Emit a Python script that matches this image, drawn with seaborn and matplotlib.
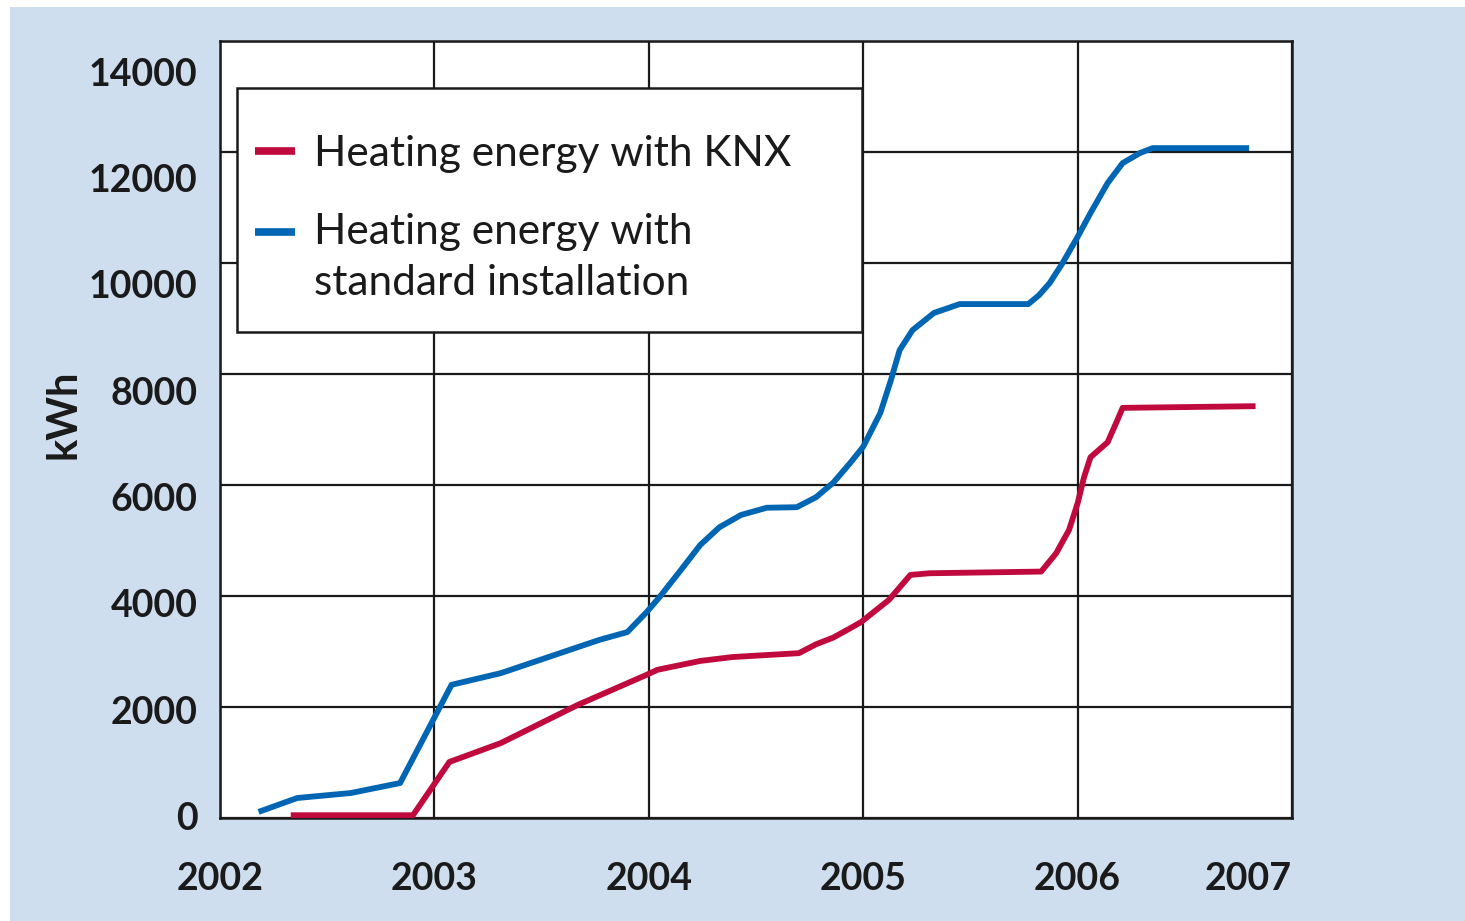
import numpy as np
import pandas as pd
import matplotlib.pyplot as plt
from matplotlib.patches import Rectangle
from matplotlib.legend_handler import HandlerLine2D
import seaborn as sns

# values (year as decimal, cumulative kWh)
knx_years = [2002.33, 2002.90, 2003.07, 2003.31, 2003.67, 2003.99, 2004.04, 2004.24,
             2004.39, 2004.70, 2004.78, 2004.86, 2004.94, 2004.99, 2005.12, 2005.22,
             2005.31, 2005.83, 2005.90, 2005.96, 2006.00, 2006.03, 2006.06, 2006.14,
             2006.18, 2006.21, 2006.83]
knx_kwh = [50, 50, 1010, 1350, 2040, 2580, 2670, 2830,
           2900, 2970, 3130, 3250, 3420, 3530, 3930, 4380,
           4410, 4440, 4770, 5190, 5670, 6140, 6500, 6770,
           7120, 7390, 7420]

std_years = [2002.18, 2002.36, 2002.61, 2002.84, 2003.08, 2003.31, 2003.67, 2003.77,
             2003.90, 2003.99, 2004.05, 2004.15, 2004.24, 2004.33, 2004.43, 2004.55,
             2004.69, 2004.78, 2004.86, 2004.94, 2005.00, 2005.08, 2005.13, 2005.17,
             2005.23, 2005.33, 2005.45, 2005.77, 2005.82, 2005.87, 2005.93, 2006.00,
             2006.06, 2006.14, 2006.21, 2006.29, 2006.35, 2006.80]
std_kwh = [110, 360, 450, 630, 2400, 2610, 3080, 3210,
           3350, 3710, 3980, 4470, 4920, 5240, 5460, 5590,
           5600, 5780, 6040, 6400, 6690, 7300, 7900, 8430,
           8790, 9100, 9260, 9260, 9420, 9640, 10000, 10470,
           10900, 11440, 11800, 11980, 12070, 12070]

series_names = ["Heating energy with KNX", "Heating energy with\nstandard installation"]
year_ticks = [2002, 2003, 2004, 2005, 2006, 2007]
kwh_ticks = [0, 2000, 4000, 6000, 8000, 10000, 12000, 14000]

RED = "#c00a3e"
BLUE = "#0066b3"
BG = "#cfdeee"
INK = "#1a1a1a"

df = pd.concat([
    pd.DataFrame({"year": knx_years, "kWh": knx_kwh, "series": series_names[0]}),
    pd.DataFrame({"year": std_years, "kWh": std_kwh, "series": series_names[1]}),
])


class FirstLineHandler(HandlerLine2D):
    # put the legend line next to the first line of a two-line label
    def __init__(self, shift, **kw):
        super().__init__(**kw)
        self.shift = shift

    def create_artists(self, *args, **kwargs):
        arts = super().create_artists(*args, **kwargs)
        for a in arts:
            a.set_ydata(np.asarray(a.get_ydata()) + self.shift)
        return arts


sns.set_style("white")
plt.rcParams['font.family'] = ['Lato', 'DejaVu Sans']

fig = plt.figure(figsize=(14.65, 9.21), dpi=100, facecolor="white")
fig.patches.append(Rectangle((10 / 1465, 0), 1, 1 - 7 / 921, transform=fig.transFigure,
                             facecolor=BG, edgecolor="none", zorder=-10))
ax = fig.add_axes([220 / 1465, 1 - 818 / 921, 1072 / 1465, 777 / 921])
ax.set_facecolor("white")

sns.lineplot(data=df, x="year", y="kWh", hue="series",
             palette={series_names[0]: RED, series_names[1]: BLUE},
             linewidth=4.2, errorbar=None, legend=False, ax=ax, zorder=5)
for ln in ax.get_lines():
    ln.set_solid_joinstyle("round")
    ln.set_solid_capstyle("butt")

ax.set_xlim(2002, 2007)
ax.set_ylim(0, 14000)
ax.set_xticks(year_ticks)
ax.set_xticklabels([str(y) for y in year_ticks], fontsize=27, fontweight="bold", color=INK)
ax.get_xticklabels()[-1].set_ha("right")
ax.set_yticks(kwh_ticks)
ax.tick_params(axis="x", length=0, pad=32)
ax.tick_params(axis="y", length=0, labelleft=False)
ax.grid(True, color=INK, linewidth=1.6)
ax.set_axisbelow(True)
for s in ax.spines.values():
    s.set_color(INK)
    s.set_linewidth(1.8)
ax.set_xlabel("")
ax.set_ylabel("kWh", fontsize=30, fontweight="bold", color=INK)
ax.yaxis.set_label_coords(-0.128, 0.52)

# the printed tick labels sit on a slightly compressed scale vs. the grid
lab = ax.twinx()
lab.set_ylim(-37, 14580)
lab.yaxis.tick_left()
lab.set_yticks(kwh_ticks)
lab.set_yticklabels([str(v) for v in kwh_ticks], fontsize=27, fontweight="bold", color=INK)
lab.tick_params(axis="y", length=0, pad=16)
for s in lab.spines.values():
    s.set_visible(False)

# legend box
ax.add_patch(Rectangle(((237 - 220) / 1072, (818 - 332) / 777), (862 - 237) / 1072, (332 - 88) / 777,
                       transform=ax.transAxes, facecolor="white", edgecolor=INK,
                       linewidth=1.8, zorder=6))
lines = ax.get_lines()[:2]
leg = ax.legend(handles=lines, labels=series_names, loc="upper left",
                bbox_to_anchor=((255 - 220) / 1072, (818 - 135) / 777), borderaxespad=0,
                frameon=False, fontsize=30.5, handlelength=0.95, handletextpad=0.45,
                labelspacing=0.95, borderpad=0,
                handler_map={lines[1]: FirstLineHandler(shift=19)})
leg.set_zorder(7)
for h in leg.legend_handles:
    h.set_linewidth(5.5)
for t in leg.get_texts():
    t.set_color(INK)
    t.set_linespacing(1.4)

fig.savefig("out.png", dpi=100, facecolor=fig.get_facecolor())
